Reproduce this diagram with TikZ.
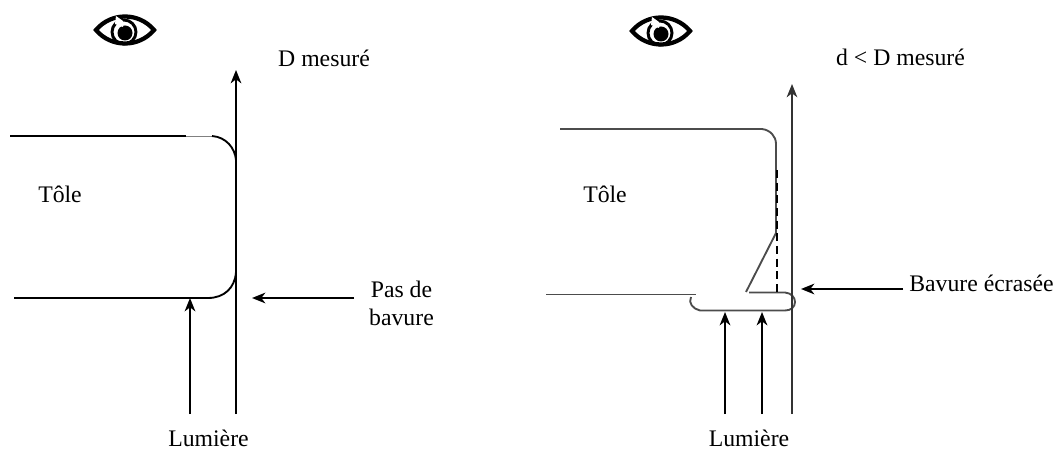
\documentclass[tikz,border=0pt]{standalone}
\usepackage{fontspec}
\setmainfont{Liberation Serif}
\usetikzlibrary{arrows.meta}
\tikzset{
  px/.style={x=0.75pt,y=-0.75pt},
  rayon/.style={-{Stealth[length=10pt,width=8pt,inset=3pt]},line width=1.4pt},
  profil/.style={line width=1.4pt,line join=round},
  legende/.style={font=\fontsize{17.8}{21}\selectfont,inner sep=0pt,align=center},
}
\newcommand{\oeil}[2]{%
  \begin{scope}[shift={(#1,#2)}]
    \draw[line width=3.2pt,line join=miter] (-29,0) .. controls (-14,-18) and (14,-18) .. (29,0)
      .. controls (14,18) and (-14,18) .. (-29,0) -- cycle;
    \draw[line width=2.2pt] (-1,2) circle (12);
    \fill (0,3) circle (7.5);
    \fill[white] (-9,-14) -- (-2,-9) -- (-2,-3) -- (-10,-6) -- cycle;
  \end{scope}}

\begin{document}
\begin{tikzpicture}[px]
    \useasboundingbox (0,0) rectangle (1056,452);

    % gauche
    \oeil{125}{30}
    \coordinate (hautA) at (236,70);
    \coordinate (basA) at (236,414);
    \coordinate (basB) at (190,414);
    \coordinate (impactB) at (190,298);
    \coordinate (impactP) at (252,298);
    \coordinate (departP) at (354,298);
    \node[legende] (tole1) at (60,194) {Tôle};
    \node[legende] (mesure1) at (324,58) {D mesuré};
    \node[legende] (pas) at (401.5,303) {Pas de\\bavure};
    \node[legende] (lum1) at (208.5,438) {Lumière};

    \draw[profil] (10,136) -- (186,136);
    \draw[line width=0.5pt,gray] (186,136) -- (212,136);
    \draw[profil] (212,136) .. controls (226,137) and (235,148) .. (236,160) -- (236,272)
      .. controls (235,288) and (224,298) .. (208,298) -- (14,298);
    \draw[rayon] (basA) -- (hautA);
    \draw[rayon] (basB) -- (impactB);
    \draw[rayon] (departP) -- (impactP);

    % droite
    \oeil{661}{31}
    \coordinate (hautC) at (792,84);
    \coordinate (basC) at (792,414);
    \coordinate (basD) at (725,414);
    \coordinate (impactD) at (725,312);
    \coordinate (basE) at (762,414);
    \coordinate (impactE) at (762,312);
    \coordinate (impactQ) at (801,289);
    \coordinate (departQ) at (903,289);
    \node[legende] (tole2) at (605,194) {Tôle};
    \node[legende] (mesure2) at (900.5,57) {d < D mesuré};
    \node[legende] (bavure) at (981.5,283) {Bavure écrasée};
    \node[legende] (lum2) at (749,438) {Lumière};

    \begin{scope}[black!70]
      \draw[profil] (560,129) -- (762,129) .. controls (770,130) and (776,136) .. (776,144)
        -- (776,233) -- (746,292);
      \draw[profil] (749,292.5) -- (785,292.5) .. controls (791,293) and (795,297) .. (795,302)
        .. controls (795,307) and (791,310.5) .. (785,310.5) -- (700,310.5)
        .. controls (693,309) and (688,303) .. (691,297);
      \draw[profil] (546,294.5) -- (696,294.5);
    \end{scope}
    \draw[line width=1.2pt,dash pattern=on 6pt off 3.5pt] (777,170) -- (777,292);
    \draw[rayon,line width=1pt,black!80] (basC) -- (hautC);
    \draw[rayon] (basD) -- (impactD);
    \draw[rayon] (basE) -- (impactE);
    \draw[rayon] (departQ) -- (impactQ);
\end{tikzpicture}
\end{document}
